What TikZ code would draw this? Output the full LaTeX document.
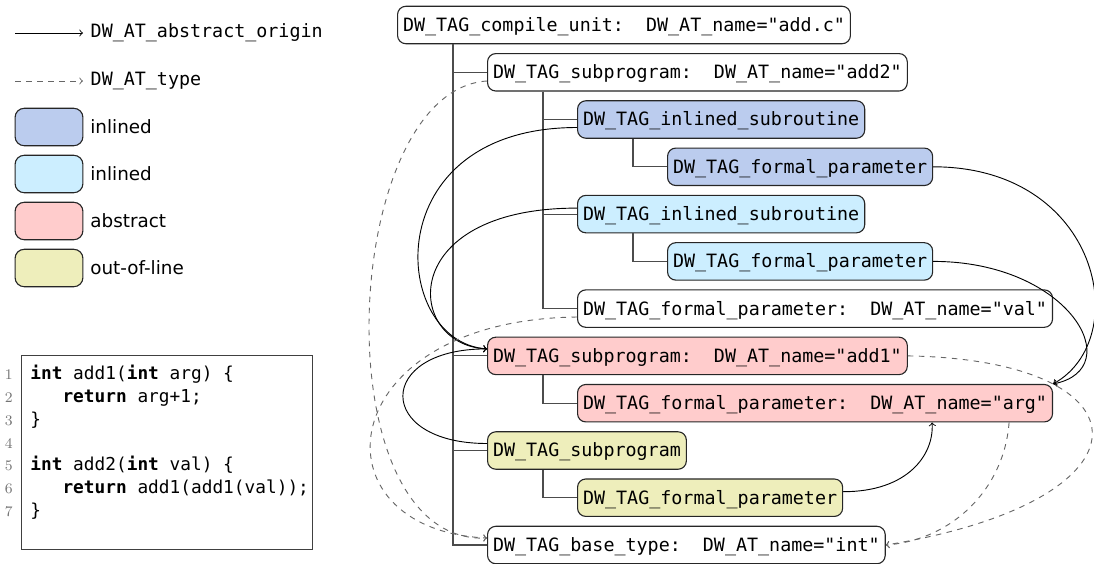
\documentclass[tikz,border=0pt]{standalone}
\usepackage{fontspec}
\setmonofont{DejaVu Sans Mono}
\setsansfont{DejaVu Sans}
\usetikzlibrary{calc}
\definecolor{dieblue}{HTML}{BBCCEE}
\definecolor{diecyan}{HTML}{CCEEFF}
\definecolor{diered}{HTML}{FFCCCC}
\definecolor{dieyellow}{HTML}{EEEEBB}
\begin{document}
\begin{tikzpicture}[x=0.545pt, y=-0.545pt,
  die/.style={draw=black!85, line width=0.6pt, rounded corners=4.5pt,
    font=\ttfamily, anchor=west, minimum height=20.4pt,
    inner xsep=3pt, inner ysep=0pt, text height=8.5pt, text depth=1.5pt},
  keybox/.style={draw=black!85, line width=0.6pt, rounded corners=5pt,
    minimum width=37pt, minimum height=20.4pt, inner sep=0pt},
  keytext/.style={font=\sffamily, anchor=west, inner sep=0pt},
  reftext/.style={font=\ttfamily, anchor=west, inner xsep=4pt, inner ysep=0pt},
  tree/.style={draw=black!70, line width=0.6pt},
  origin/.style={->, line width=0.5pt},
  typeref/.style={->, dashed, black!60, line width=0.5pt},
  codeline/.style={font=\fontsize{9.7pt}{12pt}\ttfamily, anchor=base west, inner sep=0pt},
  lineno/.style={font=\footnotesize\rmfamily, text=black!55, anchor=base east, inner sep=0pt},
]
\useasboundingbox (0,0) rectangle (1094,563);

% ---- key ----
\coordinate (keyA) at (15,33);
\node[reftext] (keyAt) at (83,33) {DW\_AT\_abstract\_origin};
\draw[origin] (keyA) -- (keyAt.west);
\coordinate (keyB) at (15,81);
\node[reftext] (keyBt) at (83,81) {DW\_AT\_type};
\draw[typeref] (keyB) -- (keyBt.west);

\node[keybox, fill=dieblue]   (k1) at (49,127) {};
\node[keybox, fill=diecyan]   (k2) at (49,174) {};
\node[keybox, fill=diered]    (k3) at (49,221) {};
\node[keybox, fill=dieyellow] (k4) at (49,268) {};
\node[keytext] (k1t) at (90,127) {inlined};
\node[keytext] (k2t) at (90,174) {inlined};
\node[keytext] (k3t) at (90,221) {abstract};
\node[keytext] (k4t) at (90,268) {out-of-line};

% ---- source listing ----
\node[draw=black!75, line width=0.6pt, anchor=north west, minimum width=158.6pt,
  minimum height=105.7pt, inner sep=0pt] (src) at (21,355) {};
\node[lineno] (n1) at (13,379.7) {1};
\node[lineno] (n2) at (13,402.5) {2};
\node[lineno] (n3) at (13,425.3) {3};
\node[lineno] (n4) at (13,448.1) {4};
\node[lineno] (n5) at (13,470.9) {5};
\node[lineno] (n6) at (13,493.7) {6};
\node[lineno] (n7) at (13,516.5) {7};
\node[codeline] (c1) at (30,379.7) {\textbf{int} add1(\textbf{int} arg) \{};
\node[codeline] (c2) at (30,402.5) {\ \ \ \textbf{return} arg+1;};
\node[codeline] (c3) at (30,425.3) {\}};
\node[codeline] (c5) at (30,470.9) {\textbf{int} add2(\textbf{int} val) \{};
\node[codeline] (c6) at (30,493.7) {\ \ \ \textbf{return} add1(add1(val));};
\node[codeline] (c7) at (30,516.5) {\}};

% ---- DIE tree ----
\node[die, fill=white]     (cu)    at (397,25)    {DW\_TAG\_compile\_unit:\ \ DW\_AT\_name="add.c"};
\node[die, fill=white]     (add2)  at (487,72.3)  {DW\_TAG\_subprogram:\ \ DW\_AT\_name="add2"};
\node[die, fill=dieblue]   (inl1)  at (577,119.5) {DW\_TAG\_inlined\_subroutine};
\node[die, fill=dieblue]   (fp1)   at (667,166.8) {DW\_TAG\_formal\_parameter};
\node[die, fill=diecyan]   (inl2)  at (577,214.1) {DW\_TAG\_inlined\_subroutine};
\node[die, fill=diecyan]   (fp2)   at (667,261.4) {DW\_TAG\_formal\_parameter};
\node[die, fill=white]     (fpval) at (577,308.6) {DW\_TAG\_formal\_parameter:\ \ DW\_AT\_name="val"};
\node[die, fill=diered]    (add1)  at (487,355.9) {DW\_TAG\_subprogram:\ \ DW\_AT\_name="add1"};
\node[die, fill=diered]    (fparg) at (577,403.2) {DW\_TAG\_formal\_parameter:\ \ DW\_AT\_name="arg"};
\node[die, fill=dieyellow] (ysub)  at (487,450.5) {DW\_TAG\_subprogram};
\node[die, fill=dieyellow] (yfp)   at (577,497.7) {DW\_TAG\_formal\_parameter};
\node[die, fill=white]     (bt)    at (487,545)   {DW\_TAG\_base\_type:\ \ DW\_AT\_name="int"};

% parent/child links
\foreach \c in {add2,add1,ysub,bt}
  \draw[tree] ($(cu.south west)+(56,0)$) |- (\c.west);
\foreach \c in {inl1,inl2,fpval}
  \draw[tree] ($(add2.south west)+(56,0)$) |- (\c.west);
\draw[tree] ($(inl1.south west)+(56,0)$) |- (fp1.west);
\draw[tree] ($(inl2.south west)+(56,0)$) |- (fp2.west);
\draw[tree] ($(add1.south west)+(56,0)$) |- (fparg.west);
\draw[tree] ($(ysub.south west)+(56,0)$) |- (yfp.west);

% DW_AT_abstract_origin references
\draw[origin] ($(inl1.west)+(0,8)$) .. controls +(-202,0) and +(-97,-7) .. ($(add1.west)+(0,-7)$);
\draw[origin] ($(inl2.west)+(0,-6)$) .. controls +(-182,0) and +(-82,-4) .. ($(add1.west)+(0,-7)$);
\draw[origin] ($(ysub.west)+(0,-7)$) .. controls +(-112,0) and +(-112,0) .. ($(add1.west)+(0,-7)$);
\draw[origin] (fp1.east) .. controls +(167,0) and +(81,-45) .. (fparg.north east);
\draw[origin] (fp2.east) .. controls +(137,0) and +(76,-15) .. (fparg.north east);
\draw[origin] ($(yfp.east)+(0,-6)$) .. controls +(65,0) and +(2,32) .. ($(fparg.south east)+(-121,0)$);

% DW_AT_type references
\draw[typeref] ($(add2.west)+(0,8.7)$) .. controls +(-147,9) and +(-167,7) .. ($(bt.west)+(0,-7)$);
\draw[typeref] ($(fpval.west)+(0,8.4)$) .. controls +(-247,3) and +(-177,-8) .. ($(bt.west)+(0,-7)$);
\draw[typeref] (add1.east) .. controls +(245,4) and +(276,-45) .. (bt.east);
\draw[typeref] ($(fparg.south east)+(-44,0)$) .. controls +(-5,67) and +(66,-5) .. (bt.east);
\end{tikzpicture}
\end{document}
